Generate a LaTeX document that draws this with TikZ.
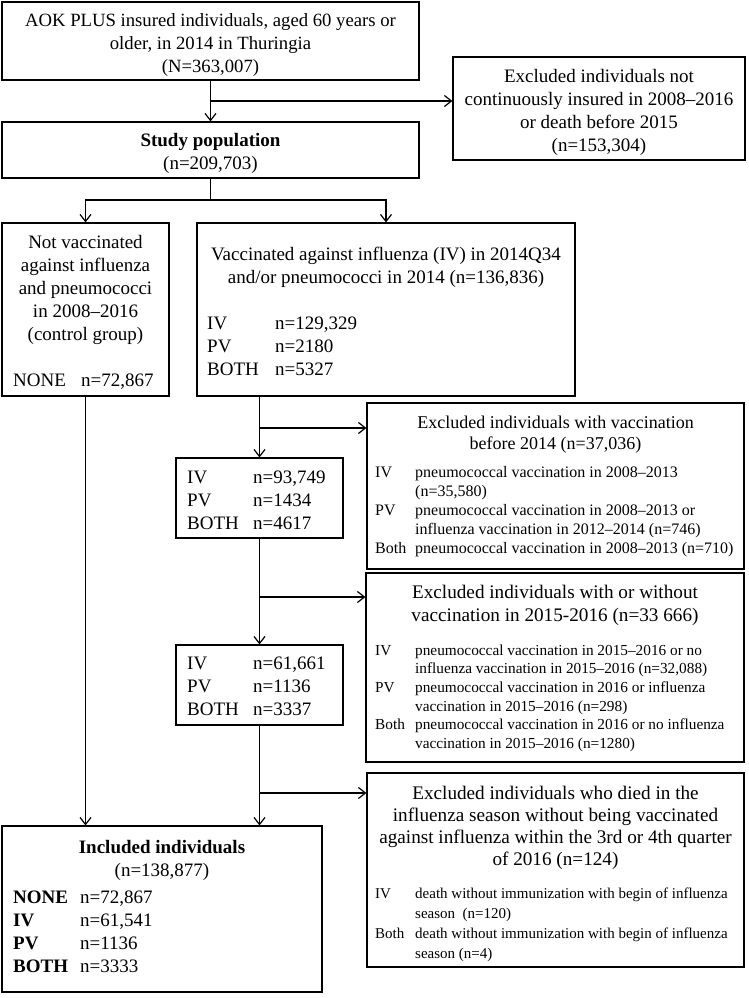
\documentclass[tikz,border=0pt]{standalone}
\usepackage{fontspec}
\setmainfont{Liberation Serif}
\usetikzlibrary{arrows.meta,calc}
\newcommand{\ctab}[1]{\begin{tabular}[t]{@{}c@{}}#1\end{tabular}}
\newcommand{\ltab}[2]{\begin{tabular}[t]{@{}p{#1}@{}l@{}}#2\end{tabular}}
\begin{document}
\begin{tikzpicture}[x=1pt,y=-1pt,
  box/.style={draw=black, line width=1.2pt, rectangle, inner sep=0pt},
  txt/.style={inner sep=0pt, anchor=base, font=\fontsize{19}{23}\selectfont},
  ltxt/.style={inner sep=0pt, anchor=base west, font=\fontsize{19}{23}\selectfont},
  sm/.style={inner sep=0pt, anchor=base west, font=\fontsize{15.5}{19}\selectfont},
  arr/.style={line width=1.2pt, -{Straight Barb[length=7pt,width=11pt]}},
  ln/.style={line width=1.2pt}]
\useasboundingbox (0,0) rectangle (749,998);

% boxes
\node[box, minimum width=417pt, minimum height=78pt] (b1) at (210.5,41) {};
\node[box, minimum width=417pt, minimum height=56pt] (b2) at (210.5,150) {};
\node[box, minimum width=292pt, minimum height=103pt] (ex1) at (599,108.5) {};
\node[box, minimum width=167pt, minimum height=173pt] (b3) at (85.5,309.5) {};
\node[box, minimum width=378pt, minimum height=173pt] (b4) at (386,309.5) {};
\node[box, minimum width=167pt, minimum height=80pt] (b5) at (259.5,498) {};
\node[box, minimum width=167pt, minimum height=80pt] (b6) at (259.5,685) {};
\node[box, minimum width=320pt, minimum height=166pt] (b7) at (162,909) {};
\node[box, minimum width=377pt, minimum height=166pt] (ex2) at (555.5,486) {};
\node[box, minimum width=378pt, minimum height=189pt] (ex3) at (555,667.5) {};
\node[box, minimum width=377pt, minimum height=194pt] (ex4) at (555.5,870) {};

% texts
\node[txt, font=\fontsize{18.7}{23}\selectfont] (t1) at (210.5,27)
  {\ctab{AOK PLUS insured individuals, aged 60 years or\\older, in 2014 in Thuringia\\(N=363,007)}};
\node[txt] (t2) at (210.5,146) {\ctab{\textbf{Study population}\\(n=209,703)}};
\node[txt] (tx1) at (599,82)
  {\ctab{Excluded individuals not\\continuously insured in 2008--2016\\or death before 2015\\(n=153,304)}};
\node[txt] (t3) at (85.5,248)
  {\ctab{Not vaccinated\\against influenza\\and pneumococci\\in 2008--2016\\(control group)}};
\node[ltxt] (t3n) at (13,386) {\ltab{68pt}{NONE & n=72,867}};
\node[txt] (t4) at (386,260)
  {\ctab{Vaccinated against influenza (IV) in 2014Q34\\and/or pneumococci in 2014 (n=136,836)}};
\node[ltxt] (t4n) at (207,329) {\ltab{68pt}{IV & n=129,329\\PV & n=2180\\BOTH & n=5327}};
\node[ltxt] (t5) at (187,483) {\ltab{66pt}{IV & n=93,749\\PV & n=1434\\BOTH & n=4617}};
\node[ltxt] (t6) at (187,669) {\ltab{66pt}{IV & n=61,661\\PV & n=1136\\BOTH & n=3337}};
\node[txt] (t7) at (162,853) {\ctab{\textbf{Included individuals}\\(n=138,877)}};
\node[ltxt] (t7n) at (13,903)
  {\ltab{67pt}{\textbf{NONE} & n=72,867\\\textbf{IV} & n=61,541\\\textbf{PV} & n=1136\\\textbf{BOTH} & n=3333}};

\node[txt, font=\fontsize{18}{21.5}\selectfont] (tx2) at (555.5,428)
  {\ctab{Excluded individuals with vaccination\\before 2014 (n=37,036)}};
\node[sm, font=\fontsize{16}{19}\selectfont] (sx2) at (375,477)
  {\ltab{40pt}{IV & pneumococcal vaccination in 2008--2013\\ & (n=35,580)\\PV & pneumococcal vaccination in 2008--2013 or\\ & influenza vaccination in 2012--2014 (n=746)\\Both & pneumococcal vaccination in 2008--2013 (n=710)}};

\node[txt, font=\fontsize{19.2}{23}\selectfont] (tx3) at (555,598)
  {\ctab{Excluded individuals with or without\\vaccination in 2015-2016 (n=33 666)}};
\node[sm, font=\fontsize{15.3}{18.7}\selectfont] (sx3) at (375,655)
  {\ltab{40pt}{IV & pneumococcal vaccination in 2015--2016 or no\\ & influenza vaccination in 2015--2016 (n=32,088)\\PV & pneumococcal vaccination in 2016 or influenza\\ & vaccination in 2015--2016 (n=298)\\Both & pneumococcal vaccination in 2016 or no influenza\\ & vaccination in 2015--2016 (n=1280)}};

\node[txt, font=\fontsize{19.2}{22}\selectfont] (tx4) at (555.5,799)
  {\ctab{Excluded individuals who died in the\\influenza season without being vaccinated\\against influenza within the 3rd or 4th quarter\\of 2016 (n=124)}};
\node[sm, font=\fontsize{15}{20}\selectfont] (sx4) at (375,898)
  {\ltab{40pt}{IV & death without immunization with begin of influenza\\ & season~ (n=120)\\Both & death without immunization with begin of influenza\\ & season (n=4)}};

% connectors
\coordinate (j1) at ($(b1.south)!0.5!(b2.north)$);
\draw[arr] (b1.south) -- (b2.north);
\draw[arr] (j1) -- (j1 -| ex1.west);
\coordinate (j2) at (210.5,200);
\draw[ln] (b2.south) -- (j2);
\draw[arr] (j2) -| (b3.north);
\draw[arr] (j2) -| (b4.north);
\draw[arr] (b4.south -| b5.north) -- (b5.north);
\coordinate (j3) at (259.5,428);
\draw[arr] (j3) -- (j3 -| ex2.west);
\draw[arr] (b5.south) -- (b6.north);
\coordinate (j4) at (259.5,597);
\draw[arr] (j4) -- (j4 -| ex3.west);
\draw[arr] (b6.south) -- (b6.south |- b7.north);
\coordinate (j5) at (259.5,793);
\draw[arr] (j5) -- (j5 -| ex4.west);
\draw[arr] (b3.south) -- (b3.south |- b7.north);
\end{tikzpicture}
\end{document}
